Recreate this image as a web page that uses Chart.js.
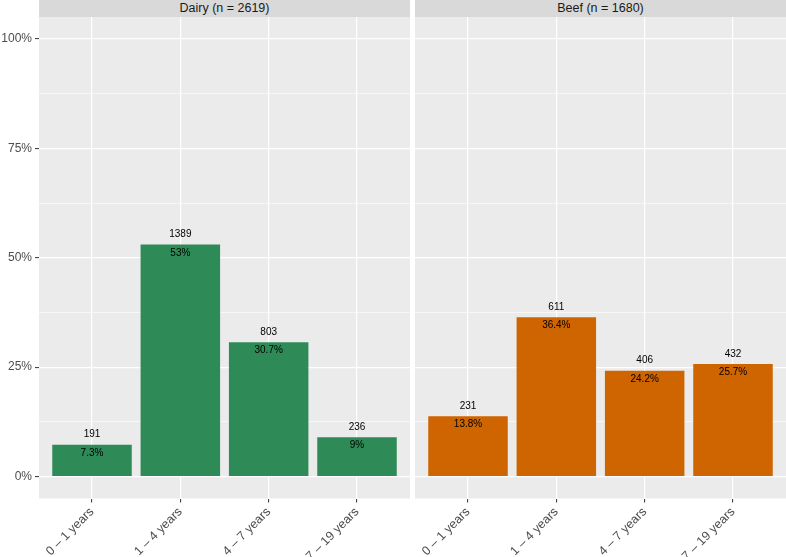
<!DOCTYPE html>
<html><head><meta charset="utf-8">
<script src="https://cdn.jsdelivr.net/npm/chart.js@4"></script>
<style>
html,body{margin:0;padding:0;background:#fff;width:786px;height:557px;overflow:hidden;font-family:"Liberation Sans",Arial,sans-serif;}
.strip{position:absolute;top:0;height:17px;background:#D9D9D9;color:#1A1A1A;font-size:12.5px;line-height:17px;text-align:center;white-space:nowrap;}
canvas{position:absolute;top:17px;}
</style></head><body>
<div class="strip" style="left:39px;width:371px">Dairy (n = 2619)</div>
<div class="strip" style="left:415px;width:371px">Beef (n = 1680)</div>
<canvas id="c1" width="410" height="540" style="left:0px;width:410px;height:540px"></canvas>
<canvas id="c2" width="371" height="540" style="left:415px;width:371px;height:540px"></canvas>
<script>
const categories = ["0 \u2013 1 years", "1 \u2013 4 years", "4 \u2013 7 years", "7 \u2013 19 years"];
const dairyCounts = [191, 1389, 803, 236];
const dairyPct = [7.3, 53, 30.7, 9];
const beefCounts = [231, 611, 406, 432];
const beefPct = [13.8, 36.4, 24.2, 25.7];
const yTickValues = [0, 12.5, 25, 37.5, 50, 62.5, 75, 87.5, 100];
const yMajor = [0, 25, 50, 75, 100];

const FONT = "'Liberation Sans', Arial, sans-serif";

const panelBg = {
  id: 'panelBg',
  beforeDraw(chart) {
    const a = chart.chartArea, c = chart.ctx;
    c.save(); c.fillStyle = '#EBEBEB';
    c.fillRect(a.left, a.top, a.right - a.left, a.bottom - a.top);
    c.restore();
  }
};

function makeLabels(counts, pcts) {
  return {
    id: 'barLabels',
    afterDatasetsDraw(chart) {
      const c = chart.ctx;
      const meta = chart.getDatasetMeta(0);
      c.save();
      c.fillStyle = '#000000';
      c.font = '10px ' + FONT;
      c.textAlign = 'center';
      c.textBaseline = 'alphabetic';
      meta.data.forEach((bar, i) => {
        c.fillText(String(counts[i]), bar.x, bar.y - 7.5);
        c.fillText(pcts[i] + '%', bar.x, bar.y + 11);
      });
      c.restore();
    }
  };
}

function isMajor(v) { return yMajor.includes(v); }

function makeChart(id, counts, pcts, color, showY) {
  const ctx = document.getElementById(id);
  return new Chart(ctx, {
    type: 'bar',
    data: {
      datasets: [{
        data: pcts.map((v, i) => ({ x: i + 1, y: v })),
        backgroundColor: color,
        borderWidth: 0,
        barPercentage: 0.9,
        categoryPercentage: 1.0
      }]
    },
    options: {
      responsive: false,
      animation: false,
      devicePixelRatio: 1,
      layout: { padding: 0 },
      plugins: { legend: { display: false }, tooltip: { enabled: false }, title: { display: false } },
      scales: {
        x: {
          type: 'linear',
          min: 0.4, max: 4.6,
          offset: false,
          border: { display: false },
          grid: { offset: false, color: '#FFFFFF', lineWidth: 1.2, drawTicks: true, tickLength: 4, tickColor: '#333333', tickWidth: 1 },
          afterBuildTicks(scale) { scale.ticks = categories.map((_, i) => ({ value: i + 1 })); },
          ticks: {
            autoSkip: false, minRotation: 45, maxRotation: 45, padding: 2,
            color: '#4D4D4D', font: { family: FONT, size: 12.5 },
            callback: (v) => categories[Math.round(v) - 1]
          },
          afterFit(scale) { scale.height = 58.5; scale.paddingLeft = 0; scale.paddingRight = 0; }
        },
        y: {
          min: -5, max: 105,
          border: { display: false },
          grid: {
            color: '#FFFFFF',
            lineWidth: (c) => (c.tick && isMajor(c.tick.value)) ? 1.2 : 0.6,
            drawTicks: showY, tickLength: 4, tickWidth: 1,
            tickColor: (c) => (c.tick && isMajor(c.tick.value)) ? '#333333' : 'rgba(0,0,0,0)'
          },
          afterBuildTicks(scale) { scale.ticks = yTickValues.map(v => ({ value: v })); },
          ticks: {
            display: showY, autoSkip: false, padding: 3,
            color: '#4D4D4D', font: { family: FONT, size: 12 },
            callback: (v) => isMajor(v) ? v + '%' : ''
          },
          afterFit(scale) { scale.width = showY ? 39 : 0; scale.paddingTop = 0; scale.paddingBottom = 0; }
        }
      }
    },
    plugins: [panelBg, makeLabels(counts, pcts)]
  });
}

makeChart('c1', dairyCounts, dairyPct, '#2E8B57', true);
makeChart('c2', beefCounts, beefPct, '#CF6500', false);
</script>
</body></html>
